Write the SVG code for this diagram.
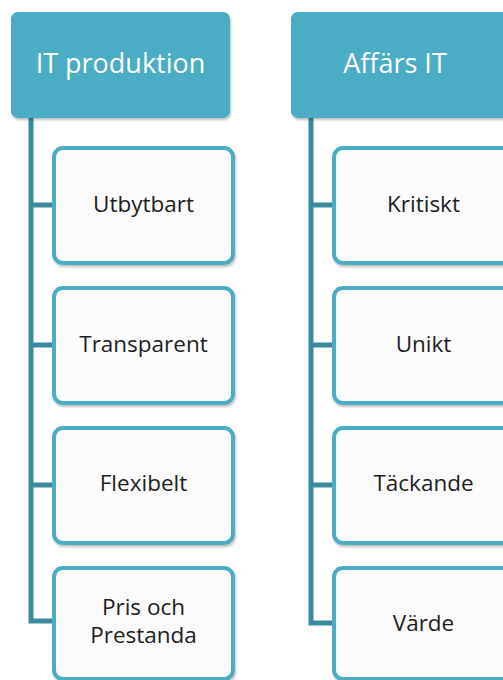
<svg xmlns="http://www.w3.org/2000/svg" width="503" height="680" viewBox="0 0 503 680">
<defs>
<filter id="sh" x="-10%" y="-10%" width="120%" height="120%">
<feDropShadow dx="1" dy="2" stdDeviation="1.2" flood-color="#000" flood-opacity="0.25"/>
</filter>
<style>
.hdr{fill:#4BACC6;}
.ht{font-family:"Open Sans","DejaVu Sans",sans-serif;font-size:27px;fill:#fff;text-anchor:middle;}
.box{fill:#FBFBFB;stroke:#4BACC6;stroke-width:4;}
.bt{font-family:"Open Sans","DejaVu Sans",sans-serif;font-size:22.5px;fill:#1e1e1e;text-anchor:middle;}
.con{stroke:#3B8BA0;stroke-width:5;fill:none;stroke-linejoin:miter;}
</style>
</defs>
<g id="connectors">
<path class="con" d="M31,118 V621 H54 M31,205 H54 M31,345 H54 M31,485 H54"/>
<path class="con" d="M311,118 V623 H334 M311,205 H334 M311,345 H334 M311,485 H334"/>
</g>
<g id="h1"><rect class="hdr" x="11" y="12" width="219" height="106" rx="7" filter="url(#sh)"/><text class="ht" x="120.5" y="73">IT produktion</text></g>
<g id="h2"><rect class="hdr" x="291" y="12" width="219" height="106" rx="7" filter="url(#sh)"/><text class="ht" x="395" y="73">Affärs IT</text></g>
<g id="l1"><rect class="box" x="54" y="148" width="179" height="115" rx="9" filter="url(#sh)"/><text class="bt" x="143.5" y="212">Utbytbart</text></g>
<g id="l2"><rect class="box" x="54" y="288" width="179" height="115" rx="9" filter="url(#sh)"/><text class="bt" x="143.5" y="352">Transparent</text></g>
<g id="l3"><rect class="box" x="54" y="428" width="179" height="115" rx="9" filter="url(#sh)"/><text class="bt" x="143.5" y="491">Flexibelt</text></g>
<g id="l4"><rect class="box" x="54" y="568" width="179" height="111" rx="9" filter="url(#sh)"/><text class="bt" x="143.5" y="615">Pris och</text><text class="bt" x="143.5" y="643">Prestanda</text></g>
<g id="r1"><rect class="box" x="334" y="148" width="179" height="115" rx="9" filter="url(#sh)"/><text class="bt" x="423.5" y="212">Kritiskt</text></g>
<g id="r2"><rect class="box" x="334" y="288" width="179" height="115" rx="9" filter="url(#sh)"/><text class="bt" x="423.5" y="352">Unikt</text></g>
<g id="r3"><rect class="box" x="334" y="428" width="179" height="115" rx="9" filter="url(#sh)"/><text class="bt" x="423.5" y="491">Täckande</text></g>
<g id="r4"><rect class="box" x="334" y="568" width="179" height="111" rx="9" filter="url(#sh)"/><text class="bt" x="423.5" y="631">Värde</text></g>
</svg>
